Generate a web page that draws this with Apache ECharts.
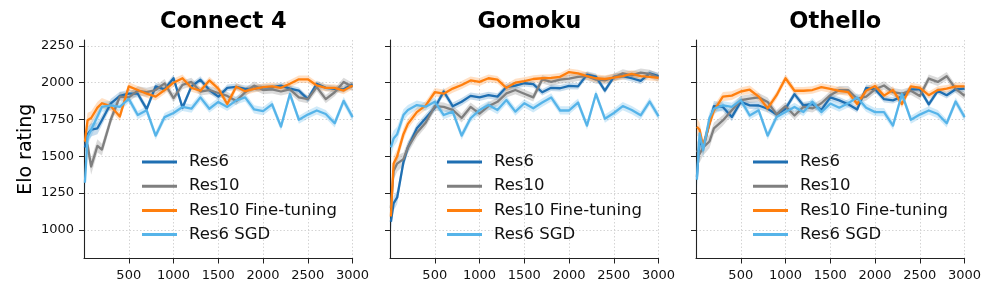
<!DOCTYPE html>
<html><head><meta charset="utf-8">
<script src="https://cdn.jsdelivr.net/npm/echarts@6/dist/echarts.min.js"></script>
<style>html,body{margin:0;padding:0;background:#fff}#c{width:997px;height:299px}</style>
</head><body><div id="c"></div>
<script>
// ---- data ----
const games = ['Connect 4', 'Gomoku', 'Othello'];
const seriesNames = ['Res6', 'Res10', 'Res10 Fine-tuning', 'Res6 SGD'];
const steps = [10,40,80,150,200,300,400,500,600,700,800,900,1000,1100,1200,1300,1400,1500,1600,1700,1800,1900,2000,2100,2200,2300,2400,2500,2600,2700,2800,2900,3000];
const yTicks = [1000, 1250, 1500, 1750, 2000, 2250];
const xTicks = [500, 1000, 1500, 2000, 2500, 3000];

const c4Res6  = [1560,1650,1680,1690,1745,1860,1910,1925,1925,1820,1975,1955,2030,1830,1975,2020,1950,1905,1965,1972,1958,1960,1968,1968,1980,1960,1946,1888,1993,1965,1958,1955,1990];
const c4Res10 = [1610,1575,1430,1570,1545,1750,1905,1900,1945,1935,1950,1995,1895,1985,2005,1940,1950,1930,1910,1875,1935,1980,1950,1955,1940,1955,1900,1888,1970,1888,1935,2005,1970];
const c4FT    = [1600,1745,1760,1830,1860,1840,1770,1975,1950,1925,1905,1950,2000,2030,1965,1945,2015,1960,1855,1972,1942,1958,1970,1975,1965,1993,2023,2023,1981,1965,1965,1946,1981];
const c4SGD   = [1320,1630,1680,1770,1835,1846,1835,1890,1780,1812,1640,1766,1794,1835,1823,1900,1823,1869,1835,1880,1900,1818,1806,1853,1701,1923,1748,1783,1811,1787,1724,1876,1766];

const gmRes6  = [1055,1180,1220,1460,1560,1690,1760,1830,1940,1840,1870,1910,1900,1915,1905,1970,1980,1996,1990,1935,1965,1962,1978,1975,2055,2041,1946,2040,2045,2030,2012,2063,2045];
const gmRes10 = [1150,1400,1450,1480,1560,1660,1730,1840,1835,1815,1760,1835,1790,1840,1870,1927,1950,1925,1900,2022,2005,2021,2028,2040,2044,2021,2016,2035,2063,2050,2068,2060,2035];
const gmFT    = [1090,1450,1500,1650,1720,1800,1846,1935,1925,1960,1984,2015,2005,2030,2020,1965,2000,2010,2025,2030,2032,2040,2072,2063,2045,2030,2025,2035,2045,2060,2045,2040,2033];
const gmSGD   = [1560,1620,1650,1780,1814,1848,1837,1871,1780,1803,1640,1758,1814,1848,1814,1882,1803,1860,1826,1865,1900,1811,1811,1865,1708,1923,1755,1794,1841,1814,1778,1872,1771];

const otRes6  = [1360,1610,1560,1724,1840,1835,1766,1869,1846,1845,1823,1784,1823,1922,1845,1855,1815,1900,1880,1853,1818,1965,1955,1888,1880,1905,1955,1955,1853,1945,1915,1955,1960];
const otRes10 = [1540,1515,1560,1600,1690,1743,1812,1881,1892,1900,1869,1784,1840,1777,1835,1825,1860,1915,1950,1950,1890,1905,1955,1981,1935,1925,1945,1910,2028,2005,2044,1958,1911];
const otFT    = [1700,1680,1565,1720,1810,1905,1912,1940,1952,1905,1825,1915,2030,1945,1945,1950,1970,1958,1945,1935,1855,1945,1978,1912,1950,1855,1975,1965,1915,1950,1960,1975,1975];
const otSGD   = [1340,1656,1540,1760,1823,1846,1835,1881,1777,1812,1640,1766,1800,1835,1800,1870,1800,1858,1830,1860,1900,1830,1800,1800,1708,1923,1748,1783,1811,1787,1724,1872,1766];

// confidence band half-widths (Elo)
const errRes6  = [60,50,45,40,35,30,28,26,25,25,25,24,24,24,23,23,23,22,22,22,22,22,22,22,22,22,22,22,22,22,22,22,22];
const errRes10 = [70,60,55,45,40,35,32,30,30,30,30,30,29,29,28,28,28,28,28,28,28,28,28,28,28,28,28,28,28,28,28,28,28];
const errFT    = [60,50,45,40,35,32,30,28,28,28,27,27,27,26,26,26,26,26,25,25,25,25,25,25,25,25,25,25,25,25,25,25,25];
const errSGD   = [70,55,50,40,35,30,28,28,28,28,28,28,28,28,28,28,28,28,28,28,28,28,28,28,28,28,28,28,28,28,28,28,28];

// ---- styling ----
const colors = ['#1f6fb2', '#7f7f7f', '#ff7f0e', '#56b4e9'];
const bandColors = ['rgba(31,111,178,0.24)', 'rgba(127,127,127,0.28)', 'rgba(255,127,14,0.24)', 'rgba(86,180,233,0.28)'];
const FONT = 'DejaVu Sans';
const gridLefts = [84, 390, 696];
const gridW = 268.6, gridTop = 40, gridH = 218.5;
const legendLefts = [142, 447, 753];

const elo = [[c4Res6, c4Res10, c4FT, c4SGD], [gmRes6, gmRes10, gmFT, gmSGD], [otRes6, otRes10, otFT, otSGD]];
const errs = [errRes6, errRes10, errFT, errSGD];

const grids = [], xAxes = [], yAxes = [], titles = [], legends = [], series = [];
games.forEach((g, gi) => {
  grids.push({left: gridLefts[gi], top: gridTop, width: gridW, height: gridH, containLabel: false});
  titles.push({
    text: g, left: gridLefts[gi] + gridW / 2, top: 6, textAlign: 'center',
    textStyle: {fontFamily: FONT, fontSize: 22.5, fontWeight: 'bold', color: '#000'}
  });
  xAxes.push({
    type: 'value', gridIndex: gi, min: 0, max: 3000, interval: 500,
    axisLine: {show: true, onZero: false, lineStyle: {color: '#222', width: 1.1}},
    axisTick: {show: true, length: 5, lineStyle: {color: '#222', width: 1}, customValues: xTicks},
    axisLabel: {show: true, fontFamily: FONT, fontSize: 13, color: '#111', margin: 11, customValues: xTicks,
      formatter: v => String(v)},
    splitLine: {show: true, lineStyle: {color: '#cfcfcf', width: 0.9, type: [1.5, 2]}}
  });
  yAxes.push({
    type: 'value', gridIndex: gi, min: 805, max: 2290,
    name: gi === 0 ? 'Elo rating' : '', nameLocation: 'middle', nameGap: 48,
    nameTextStyle: {fontFamily: FONT, fontSize: 19, color: '#000'},
    axisLine: {show: true, onZero: false, lineStyle: {color: '#222', width: 1.1}},
    axisTick: {show: true, length: 5, lineStyle: {color: '#222', width: 1}, customValues: yTicks},
    axisLabel: {show: gi === 0, fontFamily: FONT, fontSize: 13, color: '#111', margin: 10, customValues: yTicks,
      formatter: v => String(v)},
    splitLine: {show: true, lineStyle: {color: '#cfcfcf', width: 0.9, type: [1.5, 2]}}
  });
  legends.push({
    data: seriesNames, orient: 'vertical', left: legendLefts[gi], top: 152, padding: 0,
    icon: 'rect', itemWidth: 35, itemHeight: 3, itemGap: 4.2,
    textStyle: {fontFamily: FONT, fontSize: 16.5, color: '#111', lineHeight: 20, padding: [0, 0, 0, 7]},
    selectedMode: false
  });
  seriesNames.forEach((sn, si) => {
    const vals = elo[gi][si];
    const err = errs[si];
    const rows = steps.map((x, i) => [x, vals[i] - err[i], vals[i] + err[i]]);
    series.push({
      type: 'custom', name: sn + ' band', xAxisIndex: gi, yAxisIndex: gi, silent: true, z: 1 + si * 0.01,
      data: rows, encode: {x: 0, y: [1, 2]},
      renderItem: function (params, api) {
        if (params.dataIndex !== 0) return null;
        const up = rows.map(r => api.coord([r[0], r[2]]));
        const lo = rows.map(r => api.coord([r[0], r[1]])).reverse();
        return {type: 'polygon', shape: {points: up.concat(lo)}, style: {fill: bandColors[si]}};
      }
    });
    series.push({
      type: 'line', name: sn, xAxisIndex: gi, yAxisIndex: gi, z: 3 + si * 0.01,
      data: steps.map((x, i) => [x, vals[i]]),
      showSymbol: false, symbol: 'none', color: colors[si],
      lineStyle: {color: colors[si], width: 2.3, join: 'round'}
    });
  });
});

const chart = echarts.init(document.getElementById('c'), null, {renderer: 'canvas'});
chart.setOption({
  animation: false, backgroundColor: '#fff',
  textStyle: {fontFamily: FONT},
  title: titles, grid: grids, xAxis: xAxes, yAxis: yAxes, legend: legends, series: series
});
</script></body></html>
